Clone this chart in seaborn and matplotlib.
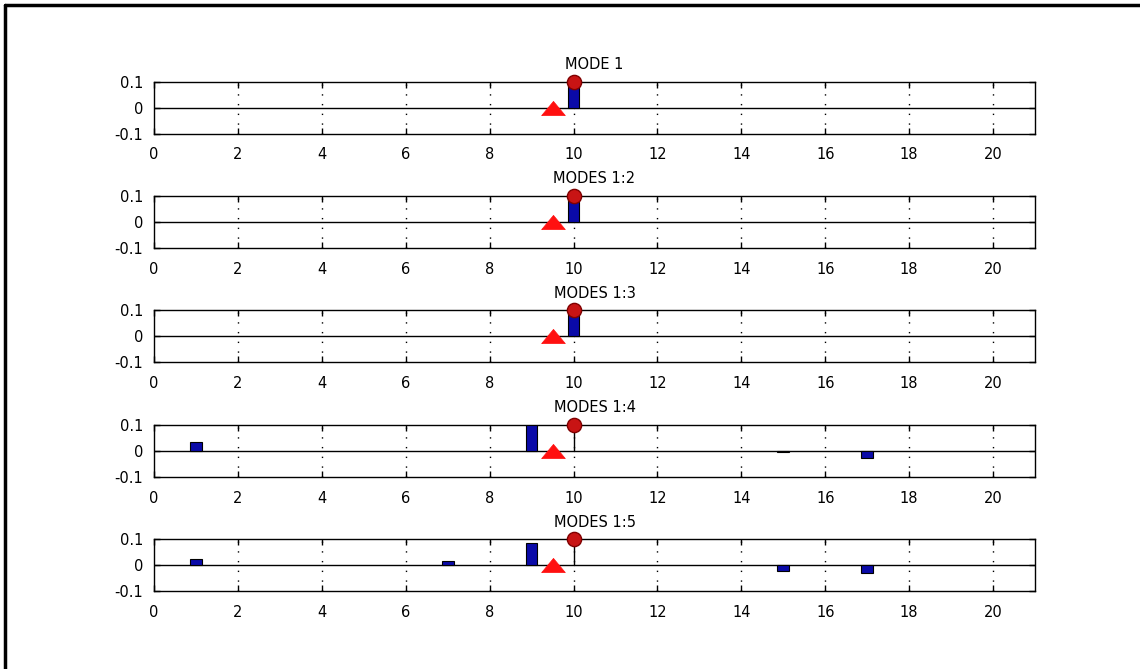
import numpy as np
import matplotlib
matplotlib.use("Agg")
import matplotlib.pyplot as plt
from matplotlib.lines import Line2D
import seaborn as sns

# data
titles = ["MODE 1", "MODES 1:2", "MODES 1:3", "MODES 1:4", "MODES 1:5"]
bar_x = [[10], [10], [10], [1, 9, 15, 17], [1, 7, 9, 15, 17]]
bar_h = [[0.095], [0.095], [0.095],
         [0.033, 0.1, -0.004, -0.029],
         [0.023, 0.017, 0.085, -0.022, -0.03]]
stem_x = 10
stem_y = 0.1
tri_x = 9.5
tri_y = 0.0
x_ticks = np.arange(0, 21, 2)
y_ticks = [-0.1, 0, 0.1]
y_labels = ["-0.1", "0", "0.1"]

sns.set_theme(style="white")
plt.rcParams['font.family'] = ['DejaVu Sans']

# flat triangle like the MATLAB marker
flat_tri = [(-1, -0.6), (1, -0.6), (0, 0.6), (-1, -0.6)]

fig = plt.figure(figsize=(11.4, 6.69), dpi=100)
fig.patch.set_facecolor("white")

left = 154 / 1140
width = (1035 - 154) / 1140
h = 52 / 669
tops = [81.5, 195.9, 310.3, 424.7, 539.1]

for i in range(5):
    bottom = 1 - (tops[i] + 52) / 669
    ax = fig.add_axes([left, bottom, width, h])
    ax.set_facecolor("white")
    ax.set_xlim(0, 21)
    ax.set_ylim(-0.1, 0.1)

    # zero line
    ax.axhline(0, color="black", lw=1, zorder=2)
    # dotted vertical grid
    for xv in x_ticks[1:]:
        ax.axvline(xv, color="black", lw=1, ls=(0, (1, 6)), zorder=1)

    # stem with circle
    ax.plot([stem_x, stem_x], [0, stem_y], color="black", lw=1, zorder=3)
    # bars
    ax.bar(bar_x[i], bar_h[i], width=0.28, color="#0a0aa8",
           edgecolor="black", lw=0.8, zorder=4)
    sns.scatterplot(x=[stem_x], y=[stem_y], ax=ax, marker="o", s=105,
                    color="#c81414", edgecolor="#800000", linewidth=1.0,
                    zorder=5, clip_on=False, legend=False)
    sns.scatterplot(x=[tri_x], y=[tri_y], ax=ax, marker=flat_tri, s=290,
                    color="#ff1010", edgecolor="#ff1010", linewidth=0.5,
                    zorder=5, clip_on=False, legend=False)

    ax.set_xticks(x_ticks)
    ax.set_yticks(y_ticks)
    ax.set_yticklabels(y_labels)
    ax.tick_params(direction="in", length=4, width=1, colors="black",
                   labelsize=10.5, top=True, right=True, bottom=True, left=True)
    ax.tick_params(axis="x", pad=10)
    ax.tick_params(axis="y", pad=8)
    for sp in ax.spines.values():
        sp.set_color("black")
        sp.set_linewidth(1)
        sp.set_visible(True)
    ax.set_xlabel("")
    ax.set_ylabel("")
    ax.set_title(titles[i], fontsize=10.5, pad=9, color="black")

# outer frame (left and top edges)
fig.add_artist(Line2D([5 / 1140, 5 / 1140], [0, 1 - 5 / 669],
                      transform=fig.transFigure, color="black", lw=2.5))
fig.add_artist(Line2D([5 / 1140, 1], [1 - 5 / 669, 1 - 5 / 669],
                      transform=fig.transFigure, color="black", lw=2.5))

fig.savefig("out.png", dpi=100, facecolor="white")
